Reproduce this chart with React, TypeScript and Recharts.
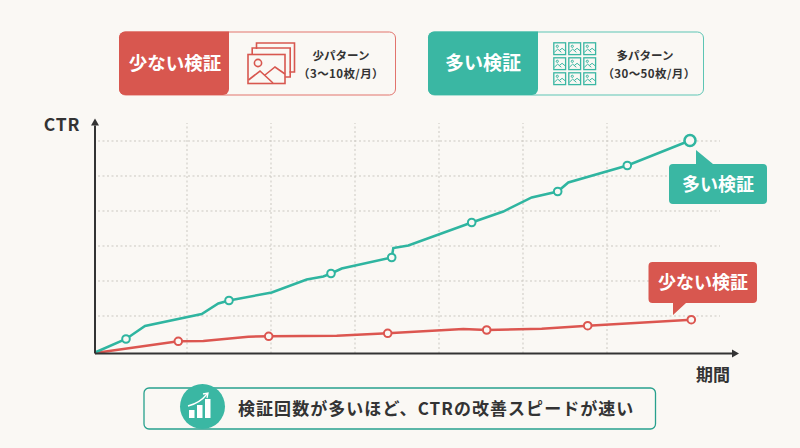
import { Line, LineChart, ReferenceDot, ReferenceLine, XAxis, YAxis } from "recharts";

// 期間 (横) と CTR (縦) はどちらも目盛りなしの相対値
const manyPeriod = [0, 31, 50, 106.7, 123.3, 134, 176.7, 211.7, 228.3, 236, 246.7, 296.7, 298.3, 313.3, 376.7, 408.3, 436.7, 462.7, 473.3, 532.3, 595];
const manyCtr = [1, 14.5, 27.5, 39.5, 50, 53, 61, 74, 77, 80, 85, 96, 105.5, 108, 131, 142, 156, 162, 171, 188, 213];
const manyMarked = [31, 134, 236, 296.7, 376.7, 462.7, 532.3, 595];

const fewPeriod = [0, 83.3, 108.3, 153.3, 173.7, 241.7, 292.7, 368.3, 391.7, 446.7, 492.7, 596.3];
const fewCtr = [0.5, 12.2, 12.5, 16.8, 17.2, 17.8, 20.2, 24.5, 23.5, 24.8, 27.8, 33.8];
const fewMarked = [83.3, 173.7, 292.7, 391.7, 492.7, 596.3];

const gridPeriods = [92, 176, 260, 344, 428, 512];
const gridCtr = [37.5, 72.5, 107.5, 142.5, 177.5, 212.5];

const FONT = '"Noto Sans CJK JP", "Noto Sans", sans-serif';
const RED = "#d8574f";
const RED_LINE = "#dc5650";
const TEAL = "#3ab7a3";
const TEAL_LINE = "#2fb5a0";
const INK = "#333333";
const BG = "#faf8f4";
const GRID = "#cbc8c1";

const toRows = (xs: number[], ys: number[]) => xs.map((period, i) => ({ period, ctr: ys[i] }));

// マーカーは一部の点だけ
const markerDot = (marked: number[], color: string, lastBig: boolean) => (props: any) => {
  const { cx, cy, payload, index } = props;
  if (!marked.includes(payload.period)) return <g key={index} />;
  const big = lastBig && payload.period === marked[marked.length - 1];
  return (
    <circle key={index} cx={cx} cy={cy} r={big ? 5.5 : 3.8} fill={BG} stroke={color} strokeWidth={big ? 2.5 : 2} />
  );
};

function PhotoStackIcon() {
  const back = [
    [8.5, 0],
    [4.2, 5],
  ];
  return (
    <g transform="translate(248,43)" fill="none" stroke={RED} strokeWidth={1.6}>
      {back.map(([dx, dy], i) => (
        <path key={i} d={`M${dx},${dy + 6} V${dy} H${dx + 38} V${dy + 29} H${dx + 33}`} />
      ))}
      <rect x={0} y={11.5} width={37} height={29} fill={BG} />
      <circle cx={10} cy={20} r={3.6} />
      <path d="M0.5,37 L12,28 L25,40 M17,32 L27,24 L37,31" />
    </g>
  );
}

function TileIcon({ x, y }: { x: number; y: number }) {
  return (
    <g transform={`translate(${x},${y})`} fill="none" stroke={TEAL} strokeWidth={1}>
      <rect x={0.5} y={0.5} width={11.8} height={11.8} strokeWidth={1.3} />
      <circle cx={4} cy={4} r={1.1} />
      <path d="M1,10 L4.4,6.8 L8,10 M6,8.2 L8.8,6 L12,8.6" />
    </g>
  );
}

function Overlay() {
  const tiles = [553.3, 568.3, 583.3].flatMap((x) => [42.3, 57.3, 72.3].map((y) => ({ x, y })));
  return (
    <svg width={800} height={448} style={{ position: "absolute", left: 0, top: 0, fontFamily: FONT }}>
      {/* 上のパネル */}
      <rect x={119.5} y={32} width={276} height={63} rx={6} fill="none" stroke="#e2746d" strokeWidth={1} />
      <path d="M125,31.5 H229 V89 a6,6 0 0 1 -6,6 H125 a6,6 0 0 1 -6,-6 V37.5 a6,6 0 0 1 6,-6 Z" fill={RED} />
      <text x={175} y={70} textAnchor="middle" fontSize={18.5} fontWeight={700} fill="#fff">少ない検証</text>
      <PhotoStackIcon />
      <text x={341} y={60} textAnchor="middle" fontSize={11.5} fontWeight={700} fill={INK}>少パターン</text>
      <text x={341} y={78} textAnchor="middle" fontSize={11.5} fontWeight={700} fill={INK} letterSpacing={0.4}>（3〜10枚/月）</text>

      <rect x={428.5} y={32} width={275} height={63} rx={6} fill="none" stroke="#5cc5b4" strokeWidth={1} />
      <path d="M434,31.5 H538 V89 a6,6 0 0 1 -6,6 H434 a6,6 0 0 1 -6,-6 V37.5 a6,6 0 0 1 6,-6 Z" fill={TEAL} />
      <text x={483} y={70} textAnchor="middle" fontSize={19} fontWeight={700} fill="#fff">多い検証</text>
      {tiles.map((t, i) => (
        <TileIcon key={i} x={t.x} y={t.y} />
      ))}
      <text x={645} y={60} textAnchor="middle" fontSize={11.5} fontWeight={700} fill={INK}>多パターン</text>
      <text x={649} y={78} textAnchor="middle" fontSize={11.5} fontWeight={700} fill={INK} letterSpacing={0.4}>（30〜50枚/月）</text>

      {/* 軸ラベル */}
      <text x={62} y={131} textAnchor="middle" fontSize={17.5} fontWeight={700} fill={INK} letterSpacing={0.8}>CTR</text>
      <text x={713} y={381} textAnchor="middle" fontSize={17} fontWeight={700} fill={INK}>期間</text>

      {/* 吹き出し */}
      <path d="M673,164 H696 V150 L713,164 H763 a4,4 0 0 1 4,4 V200 a4,4 0 0 1 -4,4 H673 a4,4 0 0 1 -4,-4 V168 a4,4 0 0 1 4,-4 Z" fill={TEAL} />
      <text x={718} y={190.5} textAnchor="middle" fontSize={18} fontWeight={700} fill="#fff">多い検証</text>
      <path d="M652.5,262 H753 a4,4 0 0 1 4,4 V299 a4,4 0 0 1 -4,4 H686 L673,315 V303 H652.5 a4,4 0 0 1 -4,-4 V266 a4,4 0 0 1 4,-4 Z" fill={RED} />
      <text x={703} y={288.5} textAnchor="middle" fontSize={18} fontWeight={700} fill="#fff">少ない検証</text>

      {/* 下のまとめ */}
      <rect x={144} y={388} width={511.5} height={41} rx={5} fill="none" stroke="#27a08d" strokeWidth={1.3} />
      <circle cx={202.5} cy={406.5} r={22.5} fill={TEAL} />
      <g fill="#fff">
        <rect x={189} y={410} width={5.5} height={8} />
        <rect x={197} y={405} width={5.5} height={13} />
        <rect x={205} y={399} width={5.5} height={19} />
      </g>
      <path d="M188,406 Q200,403 207,394" fill="none" stroke="#fff" strokeWidth={1.3} />
      <path d="M203,394 L208,393 L207,398" fill="none" stroke="#fff" strokeWidth={1.3} />
      <text x={238} y={414.5} fontSize={17} fontWeight={700} fill={INK} letterSpacing={1.05}>検証回数が多いほど、CTRの改善スピードが速い</text>
    </svg>
  );
}

export default function App() {
  return (
    <div style={{ position: "absolute", left: 0, top: 0, width: 800, height: 448, background: BG, overflow: "hidden" }}>
      <LineChart
        width={800}
        height={448}
        margin={{ top: 123, right: 80, bottom: 94.5, left: 95 }}
        style={{ position: "absolute", left: 0, top: 0 }}
      >
        <XAxis type="number" dataKey="period" domain={[0, 625]} hide />
        <YAxis type="number" dataKey="ctr" domain={[0, 230.5]} hide />
        {/* 点線グリッド: 横線は軸から少し離して始まる */}
        {gridCtr.map((v) => (
          <ReferenceLine key={`h${v}`} segment={[{ x: 3, y: v }, { x: 625, y: v }]} stroke={GRID} strokeDasharray="2 2.5" />
        ))}
        {gridPeriods.map((v) => (
          <ReferenceLine key={`v${v}`} segment={[{ x: v, y: 0 }, { x: v, y: 230.5 }]} stroke={GRID} strokeDasharray="2 2.5" />
        ))}
        <Line data={toRows(fewPeriod, fewCtr)} dataKey="ctr" type="linear" stroke={RED_LINE} strokeWidth={2.5} dot={markerDot(fewMarked, RED_LINE, false)} activeDot={false} isAnimationActive={false} />
        <Line data={toRows(manyPeriod, manyCtr)} dataKey="ctr" type="linear" stroke={TEAL_LINE} strokeWidth={2.5} dot={markerDot(manyMarked, TEAL_LINE, true)} activeDot={false} isAnimationActive={false} />
        {/* 軸は矢印付きでプロット領域の外まで伸ばす */}
        <ReferenceLine segment={[{ x: 0, y: 0 }, { x: 637, y: 0 }]} stroke={INK} strokeWidth={2} ifOverflow="visible" />
        <ReferenceLine segment={[{ x: 0, y: 0 }, { x: 0, y: 228 }]} stroke={INK} strokeWidth={2} ifOverflow="visible" />
        <ReferenceDot
          x={637}
          y={0}
          ifOverflow="visible"
          shape={(p: any) => <path d={`M${p.cx},${p.cy - 4} L${p.cx + 7},${p.cy} L${p.cx},${p.cy + 4} Z`} fill={INK} />}
        />
        <ReferenceDot
          x={0}
          y={228}
          ifOverflow="visible"
          shape={(p: any) => <path d={`M${p.cx - 4},${p.cy} L${p.cx},${p.cy - 7} L${p.cx + 4},${p.cy} Z`} fill={INK} />}
        />
      </LineChart>
      <Overlay />
    </div>
  );
}
